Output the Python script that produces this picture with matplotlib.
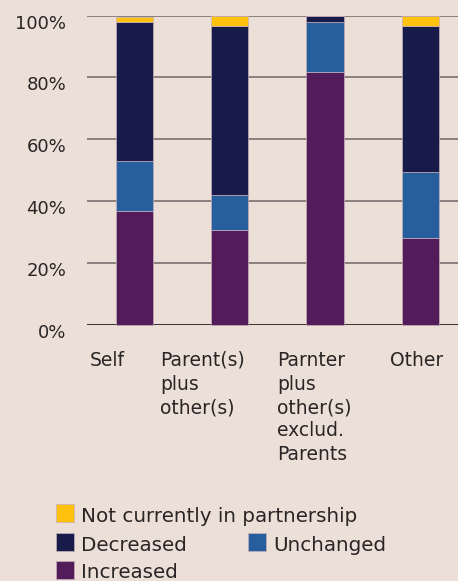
import matplotlib
matplotlib.use("Agg")
import matplotlib.pyplot as plt
from matplotlib.patches import Rectangle
from matplotlib.transforms import ScaledTranslation
import numpy as np

categories = ["Self", "Parent(s)\nplus\nother(s)", "Parnter\nplus\nother(s)\nexclud.\nParents", "Other"]
increased = [36.8, 30.6, 81.8, 28.1]
unchanged = [16.3, 11.4, 16.2, 21.3]
decreased = [45.0, 54.8, 2.0, 47.4]
not_partner = [1.4, 3.2, 0.0, 3.2]
yticks = [0, 20, 40, 60, 80, 100]

bg = "#ebdfd8"
c_inc = "#521b5a"
c_unch = "#275e9e"
c_dec = "#161b4a"
c_not = "#ffc20e"
txt = "#2a2524"

W, H = 458, 581
fig = plt.figure(figsize=(W / 100, H / 100), dpi=100, facecolor=bg)
ax = fig.add_axes([87 / W, 1 - 324.7 / H, (W - 87) / W, (324.7 - 15.7) / H])
ax.set_facecolor(bg)

x = np.arange(len(categories))
inc = np.array(increased)
unch = np.array(unchanged)
dec = np.array(decreased)
nop = np.array(not_partner)
kw = dict(width=0.39, edgecolor="#c7aeb8", linewidth=0.5, zorder=3, clip_on=False)
ax.bar(x, inc, color=c_inc, **kw)
ax.bar(x, unch, bottom=inc, color=c_unch, **kw)
ax.bar(x, dec, bottom=inc + unch, color=c_dec, **kw)
ax.bar(x, nop, bottom=inc + unch + dec, color=c_not, **kw)

ax.set_xlim(-0.498, 3.395)
ax.set_ylim(0, 100)
ax.set_yticks(yticks)
ax.set_yticklabels([f"{v}%" for v in yticks])
ax.set_xticks([])
ax.yaxis.grid(True, color="#8a807d", linewidth=1.4, zorder=0)
ax.set_axisbelow(True)
ax.axhline(0, color="#3a3232", linewidth=1.4, zorder=1)
for s in ax.spines.values():
    s.set_visible(False)
ax.tick_params(axis="y", length=0, pad=15, labelsize=13, labelcolor=txt)
for lab in ax.get_yticklabels():
    lab.set_transform(lab.get_transform() + ScaledTranslation(0, -0.06, fig.dpi_scale_trans))

# category labels, left aligned under each bar
label_x = [90, 160, 277, 390]
for lx, cat in zip(label_x, categories):
    fig.text(lx / W, 1 - 351 / H, cat, ha="left", va="top", fontsize=13.5,
             color=txt, linespacing=1.3)

# legend drawn by hand
legend_items = [
    ("Not currently in partnership", c_not, 56, 521.7),
    ("Decreased", c_dec, 56, 550.7),
    ("Unchanged", c_unch, 248, 550.7),
    ("Increased", c_inc, 56, 578.5),
]
for name, col, px, py in legend_items:
    fig.patches.append(Rectangle((px / W, 1 - py / H), 18 / W, 18 / H,
                                 transform=fig.transFigure, facecolor=col,
                                 edgecolor="#c7aeb8", linewidth=0.5))
    fig.text((px + 25) / W, 1 - py / H, name, ha="left", va="baseline",
             fontsize=14.3, color=txt)

fig.savefig("out.png", dpi=100, facecolor=bg)
